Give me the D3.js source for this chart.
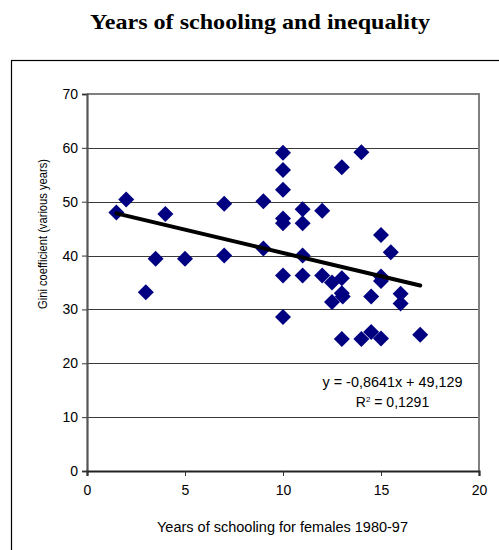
<!DOCTYPE html>
<html>
<head>
<meta charset="utf-8">
<script src="https://cdn.jsdelivr.net/npm/d3@7"></script>
<style>
  html, body { margin: 0; padding: 0; background: #fff; }
  svg { display: block; }
</style>
</head>
<body>
<svg id="chart" width="499" height="550"></svg>
<script>
// ---- data ----
const schoolingYears = [1.5, 2, 3, 3.5, 4, 5, 7, 7, 9, 9,
  10, 10, 10, 10, 10, 10, 10,
  11, 11, 11, 11, 12, 12, 12.5, 12.5,
  13, 13, 13, 13.05, 13, 14, 14, 14.5, 14.5,
  15, 15, 15, 15, 15.5, 16, 16, 17];
const giniValues = [48.0, 50.4, 33.2, 39.4, 47.7, 39.4, 49.6, 40.0, 50.1, 41.3,
  59.1, 55.9, 52.2, 46.9, 46.0, 36.3, 28.6,
  48.6, 46.0, 40.0, 36.3, 48.3, 36.3, 35.0, 31.4,
  56.4, 35.8, 33.0, 32.4, 24.5, 59.2, 24.5, 32.4, 25.8,
  43.8, 36.1, 35.3, 24.6, 40.6, 32.9, 31.1, 25.3];
const trendSlope = -0.8641;
const trendIntercept = 49.129;
const xTicks = [0, 5, 10, 15, 20];
const yTicks = [0, 10, 20, 30, 40, 50, 60, 70];
const titleText = "Years of schooling and inequality";
const xTitle = "Years of schooling for females 1980-97";
const yTitle = "Gini coefficient (various years)";
const equationLines = ["y = -0,8641x + 49,129", "R2 = 0,1291"];

(function () {
// ---- layout ----
const svg = d3.select("#chart");
const pLeft = 87, pRight = 479, pTop = 94, pBottom = 471;
const x = d3.scaleLinear().domain([0, 20]).range([pLeft, pRight]);
const y = d3.scaleLinear().domain([0, 70]).range([pBottom, pTop]);

// outer chart frame
svg.append("rect").attr("x", 11.5).attr("y", 60.5).attr("width", 600).attr("height", 600)
  .attr("fill", "none").attr("stroke", "#000").attr("stroke-width", 1.2);

// title
svg.append("text").attr("x", 260).attr("y", 29).attr("text-anchor", "middle")
  .attr("font-family", "'Liberation Serif', 'Times New Roman', serif")
  .attr("font-weight", "bold").attr("font-size", 21.5).attr("fill", "#000")
  .attr("textLength", 340).attr("lengthAdjust", "spacingAndGlyphs")
  .text(titleText);

// gridlines
svg.append("g").selectAll("line").data(yTicks.filter(d => d > 0 && d < 70)).join("line")
  .attr("x1", pLeft).attr("x2", pRight)
  .attr("y1", d => Math.round(y(d)) + 0.5).attr("y2", d => Math.round(y(d)) + 0.5)
  .attr("stroke", "#3a3a3a").attr("stroke-width", 1);

// plot area border top/right (gray)
svg.append("path")
  .attr("d", `M${pLeft},${y(70)}H${pRight}V${pBottom}`)
  .attr("fill", "none").attr("stroke", "#808080").attr("stroke-width", 2);

// axes
const fontSans = "'Liberation Sans', Arial, sans-serif";
const yAxis = d3.axisLeft(y).tickValues(yTicks).tickSize(5).tickPadding(4).tickFormat(d3.format("d"));
const gy = svg.append("g").attr("transform", `translate(${pLeft},0)`).call(yAxis);
gy.select(".domain").attr("stroke", "#555").attr("stroke-width", 2.2);
gy.selectAll(".tick line").attr("stroke", "#333");
gy.selectAll("text").attr("font-family", fontSans).attr("font-size", 14).attr("fill", "#000");

const xAxis = d3.axisBottom(x).tickValues(xTicks).tickSize(5).tickPadding(9).tickFormat(d3.format("d"));
const gx = svg.append("g").attr("transform", `translate(0,${pBottom})`).call(xAxis);
gx.select(".domain").attr("stroke", "#222").attr("stroke-width", 2.2);
gx.selectAll(".tick line").attr("stroke", "#333");
gx.selectAll("text").attr("font-family", fontSans).attr("font-size", 14).attr("fill", "#000");

// axis titles
svg.append("text").attr("x", 282.5).attr("y", 532).attr("text-anchor", "middle")
  .attr("font-family", fontSans).attr("font-size", 14).attr("fill", "#000")
  .attr("textLength", 251).attr("lengthAdjust", "spacingAndGlyphs").text(xTitle);
svg.append("text").attr("transform", "translate(47,234) rotate(-90)").attr("text-anchor", "middle")
  .attr("font-family", fontSans).attr("font-size", 13).attr("fill", "#000")
  .attr("textLength", 150).attr("lengthAdjust", "spacingAndGlyphs").text(yTitle);

// points (diamonds)
const points = schoolingYears.map((v, i) => ({ x: v, y: giniValues[i] }));
const r = 8;
svg.append("g").selectAll("path").data(points).join("path")
  .attr("d", d => {
    const cx = x(d.x), cy = y(d.y);
    return `M${cx},${cy - r}L${cx + r},${cy}L${cx},${cy + r}L${cx - r},${cy}Z`;
  })
  .attr("fill", "#000080");

// trend line
const xExt = d3.extent(schoolingYears);
const trend = xExt.map(v => ({ x: v, y: trendSlope * v + trendIntercept }));
svg.append("path").datum(trend)
  .attr("d", d3.line().x(d => x(d.x)).y(d => y(d.y)))
  .attr("stroke", "#000").attr("stroke-width", 4).attr("stroke-linecap", "round").attr("fill", "none");

// equation
svg.append("text").attr("x", 392.5).attr("y", 387).attr("text-anchor", "middle")
  .attr("font-family", fontSans).attr("font-size", 14).attr("fill", "#000")
  .attr("textLength", 140).attr("lengthAdjust", "spacingAndGlyphs").text(equationLines[0]);
const eq2 = svg.append("text").attr("x", 392.5).attr("y", 407).attr("text-anchor", "middle")
  .attr("font-family", fontSans).attr("font-size", 14).attr("fill", "#000");
eq2.append("tspan").text("R");
eq2.append("tspan").attr("dy", -5).attr("font-size", 8).text("2");
eq2.append("tspan").attr("dy", 5).text(" = 0,1291");
})();
</script>
</body>
</html>
